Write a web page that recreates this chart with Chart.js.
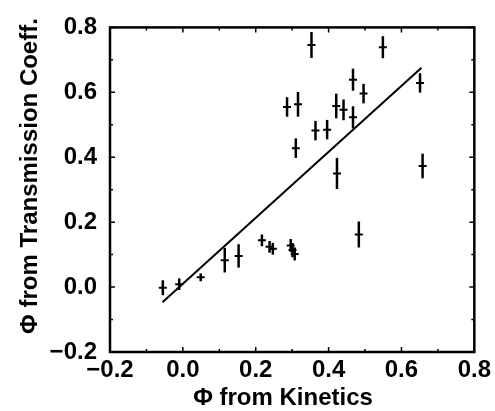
<!DOCTYPE html>
<html><head><meta charset="utf-8">
<script src="https://cdn.jsdelivr.net/npm/chart.js@4.4.1/dist/chart.umd.min.js"></script>
<style>html,body{margin:0;padding:0;background:#fff}#wrap{width:495px;height:411px}</style>
</head><body><div id="wrap"><canvas id="c" width="495" height="411"></canvas></div>
<script>
const phiKinetics = [-0.055,-0.010,0.049,0.115,0.153,0.217,0.238,0.247,0.296,0.301,0.307,
  0.353,0.549,0.286,0.316,0.310,0.364,0.396,0.421,0.441,0.467,0.467,0.496,0.423,0.483,0.651,0.658];
const phiTransmission = [-0.002,0.009,0.030,0.083,0.096,0.144,0.124,0.118,0.128,0.114,0.102,
  0.746,0.739,0.555,0.563,0.428,0.482,0.485,0.558,0.546,0.639,0.523,0.596,0.350,0.162,0.629,0.373];
const transmissionErr = [0.023,0.018,0.012,0.038,0.036,0.018,0.018,0.018,0.020,0.022,0.020,
  0.040,0.034,0.030,0.038,0.030,0.030,0.030,0.038,0.032,0.034,0.034,0.030,0.048,0.040,0.030,0.038];
const fitX = [-0.056, 0.655];
const fitY = [-0.047, 0.676];
const xTicks = [-0.2,0.0,0.2,0.4,0.6,0.8];
const yTicks = [-0.2,0.0,0.2,0.4,0.6,0.8];
const xTitle = '\u03A6 from Kinetics';
const yTitle = '\u03A6 from Transmission Coeff.';

const FONT = '"Liberation Sans", Arial, sans-serif';
const fmt = v => (v < 0 ? '\u2212' : '') + Math.abs(v).toFixed(1);

const pts = phiKinetics.map((x,i)=>({x, y: phiTransmission[i]}));
const fitPts = fitX.map((x,i)=>({x, y: fitY[i]}));

const decor = {
  id:'decor',
  afterDatasetsDraw(chart){
    const ctx = chart.ctx, xs = chart.scales.x, ys = chart.scales.y, a = chart.chartArea;
    ctx.save();
    ctx.strokeStyle = '#000';
    // error bars
    ctx.lineWidth = 2.5;
    phiKinetics.forEach((x,i)=>{
      const px = xs.getPixelForValue(x);
      const y0 = ys.getPixelForValue(phiTransmission[i]-transmissionErr[i]);
      const y1 = ys.getPixelForValue(phiTransmission[i]+transmissionErr[i]);
      ctx.beginPath(); ctx.moveTo(px,y0); ctx.lineTo(px,y1); ctx.stroke();
    });
    // inward ticks
    ctx.lineWidth = 1.5;
    for (let k=-2;k<=8;k++){
      const v = k/10, major = (k%2===0), L = major?5:3;
      const px = xs.getPixelForValue(v), py = ys.getPixelForValue(v);
      ctx.beginPath();
      ctx.moveTo(px,a.bottom); ctx.lineTo(px,a.bottom-L);
      ctx.moveTo(px,a.top); ctx.lineTo(px,a.top+L);
      ctx.moveTo(a.left,py); ctx.lineTo(a.left+L,py);
      ctx.moveTo(a.right,py); ctx.lineTo(a.right-L,py);
      ctx.stroke();
    }
    // frame
    ctx.lineWidth = 2.5;
    ctx.strokeRect(a.left,a.top,a.right-a.left,a.bottom-a.top);
    // axis titles
    ctx.fillStyle = '#000';
    ctx.font = 'bold 24px ' + FONT;
    ctx.textAlign = 'center'; ctx.textBaseline = 'middle';
    ctx.fillText(xTitle, 283, 398);
    ctx.translate(30,176); ctx.rotate(-Math.PI/2);
    ctx.fillText(yTitle, 0, 0);
    ctx.restore();
  }
};

new Chart(document.getElementById('c'), {
  type:'scatter',
  data:{datasets:[
    {data: pts, pointStyle:'line', pointRadius:4, pointBorderWidth:2, borderColor:'#000', backgroundColor:'#000', pointHoverRadius:4},
    {type:'line', data: fitPts, borderColor:'#000', borderWidth:2, pointRadius:0, fill:false, tension:0}
  ]},
  options:{
    responsive:false, animation:false, events:[],
    layout:{padding:{top:24,right:20,left:0,bottom:0}},
    plugins:{legend:{display:false}, tooltip:{enabled:false}},
    scales:{
      x:{type:'linear', min:-0.2, max:0.8,
        afterBuildTicks: s => { s.ticks = xTicks.map(v=>({value:v})); },
        afterFit: s => { s.height = 59; },
        grid:{display:false, drawTicks:false}, border:{display:false},
        ticks:{padding:4, color:'#000', maxRotation:0, font:{family:FONT, size:24, weight:'bold'}, callback: v => fmt(v)}
      },
      y:{type:'linear', min:-0.2, max:0.8,
        afterBuildTicks: s => { s.ticks = yTicks.map(v=>({value:v})); },
        afterFit: s => { s.width = 110; },
        grid:{display:false, drawTicks:false}, border:{display:false},
        ticks:{padding:13, color:'#000', font:{family:FONT, size:24, weight:'bold'}, callback: v => fmt(v)}
      }
    }
  },
  plugins:[decor]
});
</script></body></html>
